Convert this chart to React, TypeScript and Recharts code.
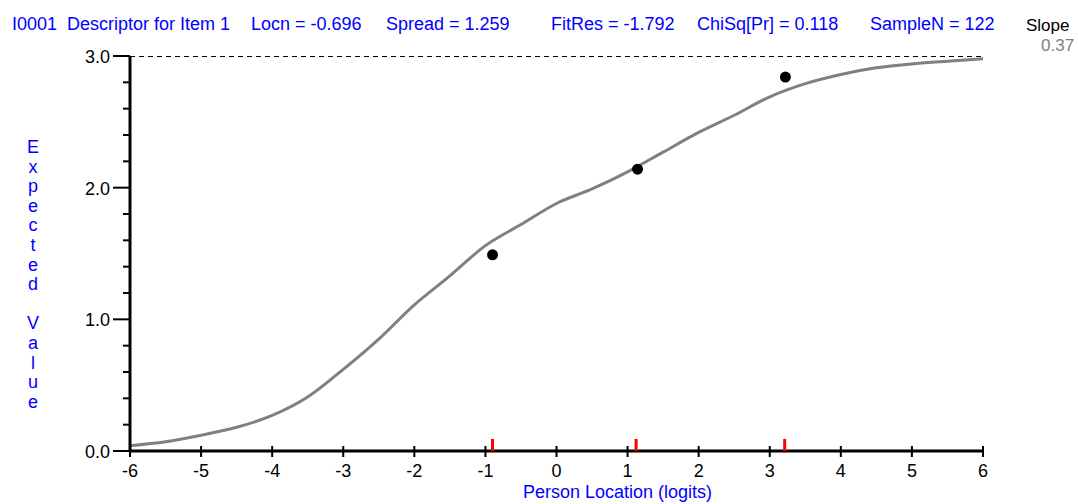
import React from 'react';
import { ComposedChart, Line, Scatter, XAxis, YAxis, ReferenceLine } from 'recharts';

// expected value curve
const curveLogits = [-6, -5.5, -5, -4.5, -4, -3.5, -3, -2.5, -2, -1.5, -1, -0.5, 0, 0.5, 1, 1.5, 2, 2.5, 3, 3.5, 4, 4.5, 5, 5.5, 6];
const curveExpected = [0.04, 0.07, 0.12, 0.18, 0.27, 0.41, 0.62, 0.85, 1.11, 1.33, 1.56, 1.72, 1.88, 1.99, 2.12, 2.27, 2.42, 2.55, 2.69, 2.79, 2.86, 2.91, 2.94, 2.96, 2.98];

// observed class interval means
const observedLogits = [-0.9, 1.14, 3.22];
const observedMeans = [1.49, 2.14, 2.84];

// class interval locations (red marks on the x axis)
const intervalLogits = [-0.9, 1.12, 3.21];

const xTicks = [-6, -5, -4, -3, -2, -1, 0, 1, 2, 3, 4, 5, 6];
const yTicks = [0, 0.2, 0.4, 0.6, 0.8, 1, 1.2, 1.4, 1.6, 1.8, 2, 2.2, 2.4, 2.6, 2.8, 3];

const headerLabels = ['I0001', 'Descriptor for Item 1', 'Locn = -0.696', 'Spread = 1.259', 'FitRes = -1.792', 'ChiSq[Pr] = 0.118', 'SampleN = 122'];
const headerX = [12, 67, 251, 386, 551, 697, 870];
const yTitle = 'Expected Value';

const curveData = curveLogits.map((x, i) => ({ x, y: curveExpected[i] }));
const observedData = observedLogits.map((x, i) => ({ x, y: observedMeans[i] }));
const intervalData = intervalLogits.map((x) => ({ x, y: 0 }));

const FONT = '"Liberation Sans", Arial, sans-serif';
const BLUE = '#0000ff';

const YTick = (props: any) => {
  const { x, y, payload } = props;
  const v = payload.value as number;
  const major = Math.abs(v - Math.round(v)) < 1e-6;
  return (
    <g>
      <line x1={x - (major ? 17 : 7)} x2={x} y1={y} y2={y} stroke="#000" strokeWidth={2} />
      {major && (
        <text x={x - 20} y={y + 7} textAnchor="end" fontSize={18} fontFamily={FONT} fill="#000">
          {v.toFixed(1)}
        </text>
      )}
    </g>
  );
};

const XTick = (props: any) => {
  const { x, y, payload } = props;
  return (
    <g>
      <line x1={x} x2={x} y1={y - 5} y2={y + 6} stroke="#000" strokeWidth={2} />
      <text x={x} y={y + 26} textAnchor="middle" fontSize={18} fontFamily={FONT} fill="#000">
        {payload.value}
      </text>
    </g>
  );
};

const RedMark = (props: any) => {
  const { cx, cy } = props;
  return <rect x={cx - 1.5} y={cy - 12} width={3} height={12} fill="#ff0000" />;
};

export default function App() {
  const yLetters = yTitle.split('');
  return (
    <div style={{ position: 'absolute', left: 0, top: 0, width: 1078, height: 504, background: '#fff' }}>
      <ComposedChart width={1078} height={504} margin={{ top: 56, right: 95, bottom: 0, left: 0 }}>
        <XAxis
          dataKey="x"
          type="number"
          domain={[-6, 6]}
          ticks={xTicks}
          height={53}
          tickSize={0}
          tickMargin={0}
          tickLine={false}
          axisLine={{ stroke: '#000', strokeWidth: 3 }}
          tick={<XTick />}
          allowDataOverflow
        />
        <YAxis
          dataKey="y"
          type="number"
          domain={[0, 3]}
          ticks={yTicks}
          width={130}
          tickSize={0}
          tickMargin={0}
          tickLine={false}
          axisLine={{ stroke: '#000', strokeWidth: 3 }}
          tick={<YTick />}
          interval={0}
          allowDataOverflow
        />
        <ReferenceLine y={3} stroke="#000" strokeWidth={1} strokeDasharray="5 4" shapeRendering="crispEdges" />
        <Line
          data={curveData}
          dataKey="y"
          type="monotone"
          stroke="#808080"
          strokeWidth={3}
          dot={false}
          isAnimationActive={false}
        />
        <Scatter data={observedData} dataKey="y" fill="#000" isAnimationActive={false}
          shape={(p: any) => <circle cx={p.cx} cy={p.cy} r={5.5} fill="#000" />} />
        <Scatter data={intervalData} dataKey="y" isAnimationActive={false} shape={<RedMark />} />
      </ComposedChart>
      <svg width={1078} height={504} style={{ position: 'absolute', left: 0, top: 0, pointerEvents: 'none' }}>
        {headerLabels.map((t, i) => (
          <text key={t} x={headerX[i]} y={30} fontSize={18} fontFamily={FONT} fill={BLUE}>
            {t}
          </text>
        ))}
        <text x={1026} y={31} fontSize={17} fontFamily={FONT} fill="#000">Slope</text>
        <text x={1041} y={51} fontSize={17} fontFamily={FONT} fill="#808080">0.37</text>
        {yLetters.map((c, i) =>
          c === ' ' ? null : (
            <text key={i} x={33} y={153 + i * 19.6} textAnchor="middle" fontSize={18} fontFamily={FONT} fill={BLUE}>
              {c}
            </text>
          )
        )}
        <text x={523} y={498} fontSize={18} fontFamily={FONT} fill={BLUE}>Person Location (logits)</text>
      </svg>
    </div>
  );
}
